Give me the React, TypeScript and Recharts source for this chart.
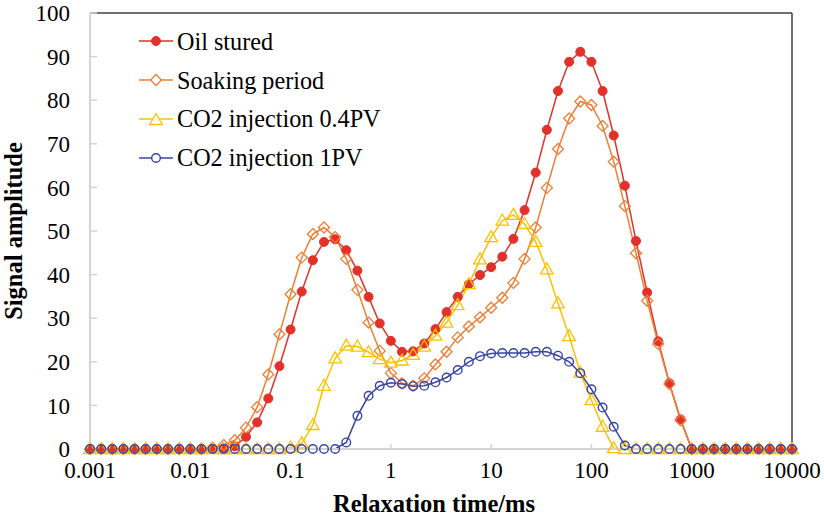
import React from 'react';
import { LineChart, Line, XAxis, YAxis, ReferenceLine, Legend, Label } from 'recharts';

// Relaxation time grid (ms), 64 log-spaced points from 0.001 to 10000
const relaxationTimes = [
  0.001, 0.001292, 0.001668, 0.002154, 0.002783, 0.003594, 0.004642, 0.005995, 0.007743,
  0.01, 0.01292, 0.01668, 0.02154, 0.02783, 0.03594, 0.04642, 0.05995, 0.07743,
  0.1, 0.1292, 0.1668, 0.2154, 0.2783, 0.3594, 0.4642, 0.5995, 0.7743,
  1, 1.292, 1.668, 2.154, 2.783, 3.594, 4.642, 5.995, 7.743,
  10, 12.92, 16.68, 21.54, 27.83, 35.94, 46.42, 59.95, 77.43,
  100, 129.2, 166.8, 215.4, 278.3, 359.4, 464.2, 599.5, 774.3,
  1000, 1292, 1668, 2154, 2783, 3594, 4642, 5995, 7743,
  10000,
];

const oilStured = [
  0, 0, 0, 0, 0, 0, 0, 0, 0,
  0, 0, 0, 0.2, 0.6, 2.8, 6.1, 11.6, 19.0,
  27.4, 36.1, 43.3, 47.5, 48.1, 45.6, 40.9, 34.9, 28.8,
  24.8, 22.3, 22.4, 24.2, 27.5, 31.4, 34.9, 37.8, 39.9,
  41.7, 44.1, 48.2, 54.8, 63.4, 73.2, 82.1, 88.8, 91.1,
  88.8, 82.1, 71.9, 60.4, 47.7, 35.9, 24.7, 15.1, 6.8,
  0, 0, 0, 0, 0, 0, 0, 0, 0,
  0,
];

const soakingPeriod = [
  0, 0, 0, 0, 0, 0, 0, 0, 0,
  0, 0, 0.3, 0.9, 2.0, 4.9, 9.6, 17.1, 26.3,
  35.5, 43.9, 49.3, 50.8, 48.6, 43.6, 36.5, 29.0, 22.5,
  17.4, 15.1, 14.5, 16.2, 19.4, 22.3, 25.6, 28.1, 30.2,
  32.4, 34.7, 38.1, 43.6, 50.8, 59.9, 68.8, 75.8, 79.7,
  78.9, 74.1, 65.9, 55.7, 44.9, 34.0, 24.1, 14.9, 6.6,
  0, 0, 0, 0, 0, 0, 0, 0, 0,
  0,
];

const co2Injection04PV = [
  0, 0, 0, 0, 0, 0, 0, 0, 0,
  0, 0, 0, 0, 0, 0, 0, 0, 0,
  0.3, 1.3, 5.5, 14.5, 20.8, 23.7, 23.5, 22.2, 20.6,
  19.8, 20.3, 21.6, 23.5, 26.0, 29.0, 33.0, 37.8, 43.5,
  48.6, 52.4, 53.7, 51.6, 47.5, 41.2, 33.4, 25.9, 17.5,
  11.2, 5.1, 0.2, 0, 0, 0, 0, 0, 0,
  0, 0, 0, 0, 0, 0, 0, 0, 0,
  0,
];

const co2Injection1PV = [
  0, 0, 0, 0, 0, 0, 0, 0, 0,
  0, 0, 0, 0, 0, 0, 0, 0, 0,
  0, 0, 0, 0, 0, 1.5, 7.6, 12.2, 14.5,
  15.2, 14.9, 14.4, 14.5, 15.3, 16.4, 18.1, 20.0, 21.3,
  21.9, 22.0, 22.0, 22.0, 22.3, 22.3, 21.4, 20.0, 17.4,
  13.7, 9.5, 5.1, 0.8, 0, 0, 0, 0, 0,
  0, 0, 0, 0, 0, 0, 0, 0, 0,
  0,
];

const seriesNames = ['Oil stured', 'Soaking period', 'CO2 injection 0.4PV', 'CO2 injection 1PV'];
const xTicks = [0.001, 0.01, 0.1, 1, 10, 100, 1000, 10000];
const xTickLabels = ['0.001', '0.01', '0.1', '1', '10', '100', '1000', '10000'];
const yTicks = [0, 10, 20, 30, 40, 50, 60, 70, 80, 90, 100];
const xAxisTitle = 'Relaxation time/ms';
const yAxisTitle = 'Signal amplitude';

const data = relaxationTimes.map((t, i) => ({
  t,
  oil: oilStured[i],
  soak: soakingPeriod[i],
  pv04: co2Injection04PV[i],
  pv1: co2Injection1PV[i],
}));

const FONT = '"Liberation Serif", "Times New Roman", serif';
const RED = '#E2302A';
const ORANGE = '#EE7E35';
const YELLOW = '#FFC000';
const BLUE = '#3844A4';
const AXIS_GRAY = '#d4d4d4';
const BORDER = '#404040';

const diamondPath = (cx: number, cy: number, s: number) =>
  `M${cx},${cy - s}L${cx + s},${cy}L${cx},${cy + s}L${cx - s},${cy}Z`;
const trianglePath = (cx: number, cy: number) =>
  `M${cx},${cy - 6.5}L${cx + 6.3},${cy + 4.5}L${cx - 6.3},${cy + 4.5}Z`;

const DiamondDot = (props: any) => {
  const { cx, cy, index } = props;
  if (cx == null || cy == null) return <g key={`d-${index}`} />;
  return <path key={`d-${index}`} d={diamondPath(cx, cy, 5.5)} fill="none" stroke={ORANGE} strokeWidth={1.3} />;
};

const TriangleDot = (props: any) => {
  const { cx, cy, index } = props;
  if (cx == null || cy == null) return <g key={`t-${index}`} />;
  return <path key={`t-${index}`} d={trianglePath(cx, cy)} fill="none" stroke={YELLOW} strokeWidth={1.3} />;
};

const legendIcon = (i: number) => {
  const cx = 17;
  const cy = 8;
  const colors = [RED, ORANGE, YELLOW, BLUE];
  const c = colors[i];
  let marker: React.ReactNode = null;
  if (i === 0) marker = <circle cx={cx} cy={cy} r={4.5} fill={RED} stroke={RED} />;
  if (i === 1) marker = <path d={diamondPath(cx, cy, 5.5)} fill="#fff" stroke={ORANGE} strokeWidth={1.3} />;
  if (i === 2) marker = <path d={trianglePath(cx, cy + 1)} fill="#fff" stroke={YELLOW} strokeWidth={1.3} />;
  if (i === 3) marker = <circle cx={cx} cy={cy} r={4.3} fill="#fff" stroke={BLUE} strokeWidth={1.4} />;
  return (
    <svg width={38} height={16} style={{ display: 'block', flex: 'none' }}>
      <line x1={0} y1={cy} x2={34} y2={cy} stroke={c} strokeWidth={1.6} />
      {marker}
    </svg>
  );
};

const renderLegend = () => (
  <div style={{ fontFamily: FONT, fontSize: 24.2, color: '#000' }}>
    {seriesNames.map((name, i) => (
      <div key={name} style={{ display: 'flex', alignItems: 'center', height: 38.8, whiteSpace: 'nowrap' }}>
        {legendIcon(i)}
        <span style={{ lineHeight: '27px' }}>{name}</span>
      </div>
    ))}
  </div>
);

export default function App() {
  return (
    <div style={{ position: 'absolute', left: 0, top: 0, width: 824, height: 519, overflow: 'hidden', background: '#fff' }}>
      <LineChart width={824} height={519} data={data} margin={{ top: 13, right: 32, left: 0, bottom: 0 }}>
        <XAxis
          dataKey="t"
          type="number"
          scale="log"
          domain={[0.001, 10000]}
          ticks={xTicks}
          interval={0}
          tickFormatter={(v: number) => xTickLabels[xTicks.indexOf(v)] ?? String(v)}
          height={70}
          axisLine={{ stroke: AXIS_GRAY, strokeWidth: 2 }}
          tickLine={{ stroke: AXIS_GRAY, strokeWidth: 1.5 }}
          tickSize={-5}
          tickMargin={18}
          tick={{ fill: '#000', fontSize: 23, fontFamily: FONT }}
        >
          <Label
            content={() => (
              <text
                x={434}
                y={512}
                textAnchor="middle"
                style={{ fontFamily: FONT, fontSize: 24.5, fontWeight: 'bold', fill: '#000' }}
              >
                {xAxisTitle}
              </text>
            )}
          />
        </XAxis>
        <YAxis
          type="number"
          domain={[0, 100]}
          ticks={yTicks}
          interval={0}
          width={90}
          axisLine={{ stroke: AXIS_GRAY, strokeWidth: 2 }}
          tickLine={{ stroke: AXIS_GRAY, strokeWidth: 1.5 }}
          tickSize={-7}
          tickMargin={27}
          tick={{ fill: '#000', fontSize: 23, fontFamily: FONT }}
        >
          <Label
            content={() => (
              <text
                transform="translate(21.5,231) rotate(-90)"
                textAnchor="middle"
                style={{ fontFamily: FONT, fontSize: 24.5, fontWeight: 'bold', fill: '#000' }}
              >
                {yAxisTitle}
              </text>
            )}
          />
        </YAxis>
        <ReferenceLine y={100} stroke={BORDER} strokeWidth={1.5} />
        <ReferenceLine x={10000} stroke={BORDER} strokeWidth={1.5} />
        <Legend
          layout="horizontal"
          align="center"
          verticalAlign="middle"
          content={renderLegend}
          wrapperStyle={{ left: 139, top: 22, width: 'auto', height: 'auto' }}
        />
        <Line
          dataKey="oil"
          name={seriesNames[0]}
          stroke={RED}
          strokeWidth={1.5}
          dot={{ r: 4.5, fill: RED, stroke: RED, strokeWidth: 1 }}
          isAnimationActive={false}
        />
        <Line
          dataKey="soak"
          name={seriesNames[1]}
          stroke={ORANGE}
          strokeWidth={1.5}
          dot={DiamondDot}
          isAnimationActive={false}
        />
        <Line
          dataKey="pv04"
          name={seriesNames[2]}
          stroke={YELLOW}
          strokeWidth={1.5}
          dot={TriangleDot}
          isAnimationActive={false}
        />
        <Line
          dataKey="pv1"
          name={seriesNames[3]}
          stroke={BLUE}
          strokeWidth={1.5}
          dot={{ r: 4.3, fill: 'none', stroke: BLUE, strokeWidth: 1.4 }}
          isAnimationActive={false}
        />
      </LineChart>
    </div>
  );
}
